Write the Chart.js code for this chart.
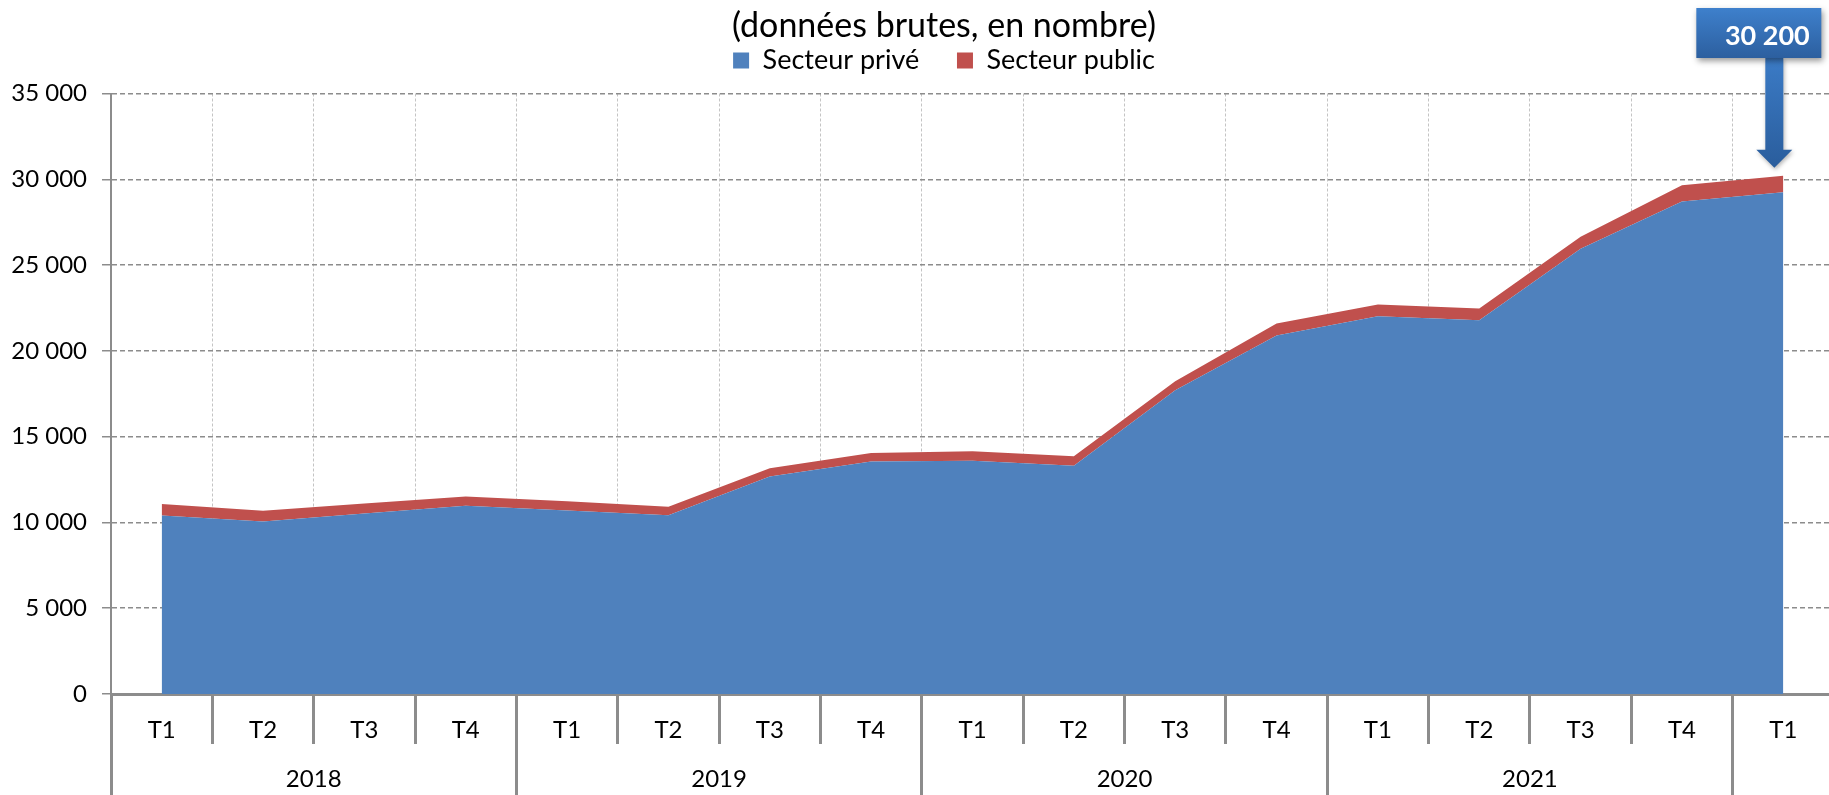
<!DOCTYPE html>
<html>
<head>
<meta charset="utf-8">
<script src="https://cdn.jsdelivr.net/npm/chart.js"></script>
<style>
  html, body { margin: 0; padding: 0; background: #fff; overflow: hidden; }
  #wrap { width: 1888px; height: 795px; }
</style>
</head>
<body>
<div id="wrap"><canvas id="myChart"></canvas></div>
<script>
// trimestres, annees
const quarters = ['T1','T2','T3','T4','T1','T2','T3','T4','T1','T2','T3','T4','T1','T2','T3','T4','T1'];
const years = ['2018','2019','2020','2021'];
const yearStarts = [0, 4, 8, 12];

// valeurs
const prive =      [10410, 10060, 10520, 10970, 10690, 10420, 12670, 13550, 13600, 13300, 17700, 20900, 22020, 21790, 25950, 28700, 29250];
const publicSect = [  660,   620,   580,   540,   550,   500,   490,   500,   550,   550,   530,   700,   680,   680,   700,   950,   950];

const yTicks = [0, 5000, 10000, 15000, 20000, 25000, 30000, 35000];

const blue = '#4F81BD';
const red = '#C0504D';
const gray = '#8c8c8c';

Chart.defaults.font.family = 'Lato';
Chart.defaults.color = '#000';

function fmt(v) {
  return String(v).replace(/\B(?=(\d{3})+(?!\d))/g, ' ');
}

const last = prive.length - 1;
const lastTotal = fmt(prive[last] + publicSect[last]);

// callout "30 200" + fleche vers le dernier point
const callout = {
  id: 'callout',
  beforeUpdate(chart) {
    if (chart.legend && !chart.legend._patched) {
      const f = chart.legend.fit;
      chart.legend.fit = function () { f.call(this); this.height = 50.5; };
      chart.legend._patched = true;
    }
  },
  afterDraw(chart) {
    const pt = chart.getDatasetMeta(1).data[last];
    const ctx = chart.ctx;
    const px = pt.x, py = pt.y;
    const cx = px - 9;
    const bx = px - 87, by = 8, bw = 125, bh = 50;

    ctx.save();
    // fleche
    const headTop = py - 26, tip = py - 8;
    let g = ctx.createLinearGradient(0, by + bh, 0, tip);
    g.addColorStop(0, '#3b7bc6');
    g.addColorStop(1, '#2a5d9c');
    ctx.shadowColor = 'rgba(0,0,0,0.3)';
    ctx.shadowBlur = 4;
    ctx.shadowOffsetX = 1;
    ctx.shadowOffsetY = 2;
    ctx.fillStyle = g;
    ctx.beginPath();
    ctx.moveTo(cx - 9, by + bh);
    ctx.lineTo(cx + 9, by + bh);
    ctx.lineTo(cx + 9, headTop);
    ctx.lineTo(cx + 18, headTop);
    ctx.lineTo(cx, tip);
    ctx.lineTo(cx - 18, headTop);
    ctx.lineTo(cx - 9, headTop);
    ctx.closePath();
    ctx.fill();

    // boite
    g = ctx.createLinearGradient(0, by, 0, by + bh);
    g.addColorStop(0, '#3e80cc');
    g.addColorStop(1, '#2c5f9f');
    ctx.shadowColor = 'rgba(0,0,0,0.4)';
    ctx.shadowBlur = 6;
    ctx.shadowOffsetX = 2;
    ctx.shadowOffsetY = 3;
    ctx.fillStyle = g;
    ctx.fillRect(bx, by, bw, bh);
    ctx.shadowColor = 'rgba(0,0,0,0)';

    ctx.fillStyle = '#fff';
    ctx.font = 'bold 27px Lato';
    ctx.textAlign = 'center';
    ctx.textBaseline = 'middle';
    ctx.fillText(lastTotal, px - 16, by + bh / 2 + 3);
    ctx.restore();
  }
};

const ctx = document.getElementById('myChart');

new Chart(ctx, {
  type: 'line',
  data: {
    labels: quarters,
    datasets: [{
      label: 'Secteur privé',
      data: prive,
      backgroundColor: blue,
      borderColor: blue,
      borderWidth: 0,
      pointRadius: 0,
      fill: 'origin',
      tension: 0
    }, {
      label: 'Secteur public',
      data: publicSect,
      backgroundColor: red,
      borderColor: red,
      borderWidth: 0,
      pointRadius: 0,
      fill: '-1',
      tension: 0
    }]
  },
  options: {
    responsive: true,
    maintainAspectRatio: false,
    animation: false,
    devicePixelRatio: 1,
    layout: { padding: { top: 0, right: 0, left: 0, bottom: 2 } },
    plugins: {
      tooltip: { enabled: false },
      title: {
        display: true,
        text: '(données brutes, en nombre)',
        font: { size: 34, weight: 'normal', lineHeight: 1.0 },
        color: '#000',
        padding: { top: 9, bottom: 0 }
      },
      legend: {
        display: true,
        labels: {
          boxWidth: 16,
          boxHeight: 16,
          padding: 4,
          font: { size: 27 },
          color: '#000',
          generateLabels(chart) {
            const items = Chart.defaults.plugins.legend.labels.generateLabels(chart);
            items[0].text += '\u2003\u2002';
            return items;
          }
        }
      }
    },
    scales: {
      x: {
        type: 'category',
        offset: true,
        stacked: true,
        grid: { offset: true, color: '#c4c4c4', lineWidth: 1, tickLength: 50, tickColor: gray, tickWidth: 3 },
        border: { display: true, color: gray, width: 3, dash: [3, 2] },
        ticks: { font: { size: 24 }, color: '#000', padding: -28.4, maxRotation: 0, autoSkip: false },
        afterFit: s => { s.height = 50; }
      },
      x2: {
        type: 'linear',
        position: 'bottom',
        min: 0,
        max: quarters.length,
        afterBuildTicks: s => {
          const t = [];
          yearStarts.forEach(v => { t.push({ value: v }); t.push({ value: v + 2 }); });
          t.push({ value: 16 });
          s.ticks = t;
        },
        grid: {
          drawOnChartArea: false,
          tickLength: 60,
          lineWidth: 3,
          color: c => (c.tick && c.tick.value % 4 === 0) ? gray : 'rgba(0,0,0,0)'
        },
        border: { display: false },
        ticks: {
          autoSkip: false,
          maxRotation: 0,
          font: { size: 24 },
          color: '#000',
          padding: -39.4,
          callback: v => {
            const i = yearStarts.indexOf(v - 2);
            return i >= 0 ? years[i] : '';
          }
        },
        afterFit: s => { s.height = 49; }
      },
      y: {
        stacked: true,
        min: 0,
        max: 35000,
        afterBuildTicks: s => { s.ticks = yTicks.map(v => ({ value: v })); },
        ticks: { font: { size: 24 }, color: '#000', padding: 15, callback: v => fmt(v) },
        grid: { color: gray, lineWidth: 1.5, tickLength: 9, tickColor: gray },
        border: { color: gray, width: 2, dash: [5, 3] },
        afterFit: s => { s.width = 111; }
      },
      yRight: {
        position: 'right',
        display: true,
        grid: { display: false },
        ticks: { display: false },
        border: { display: false },
        afterFit: s => { s.width = 54; }
      }
    }
  },
  plugins: [callout]
});
</script>
</body>
</html>
